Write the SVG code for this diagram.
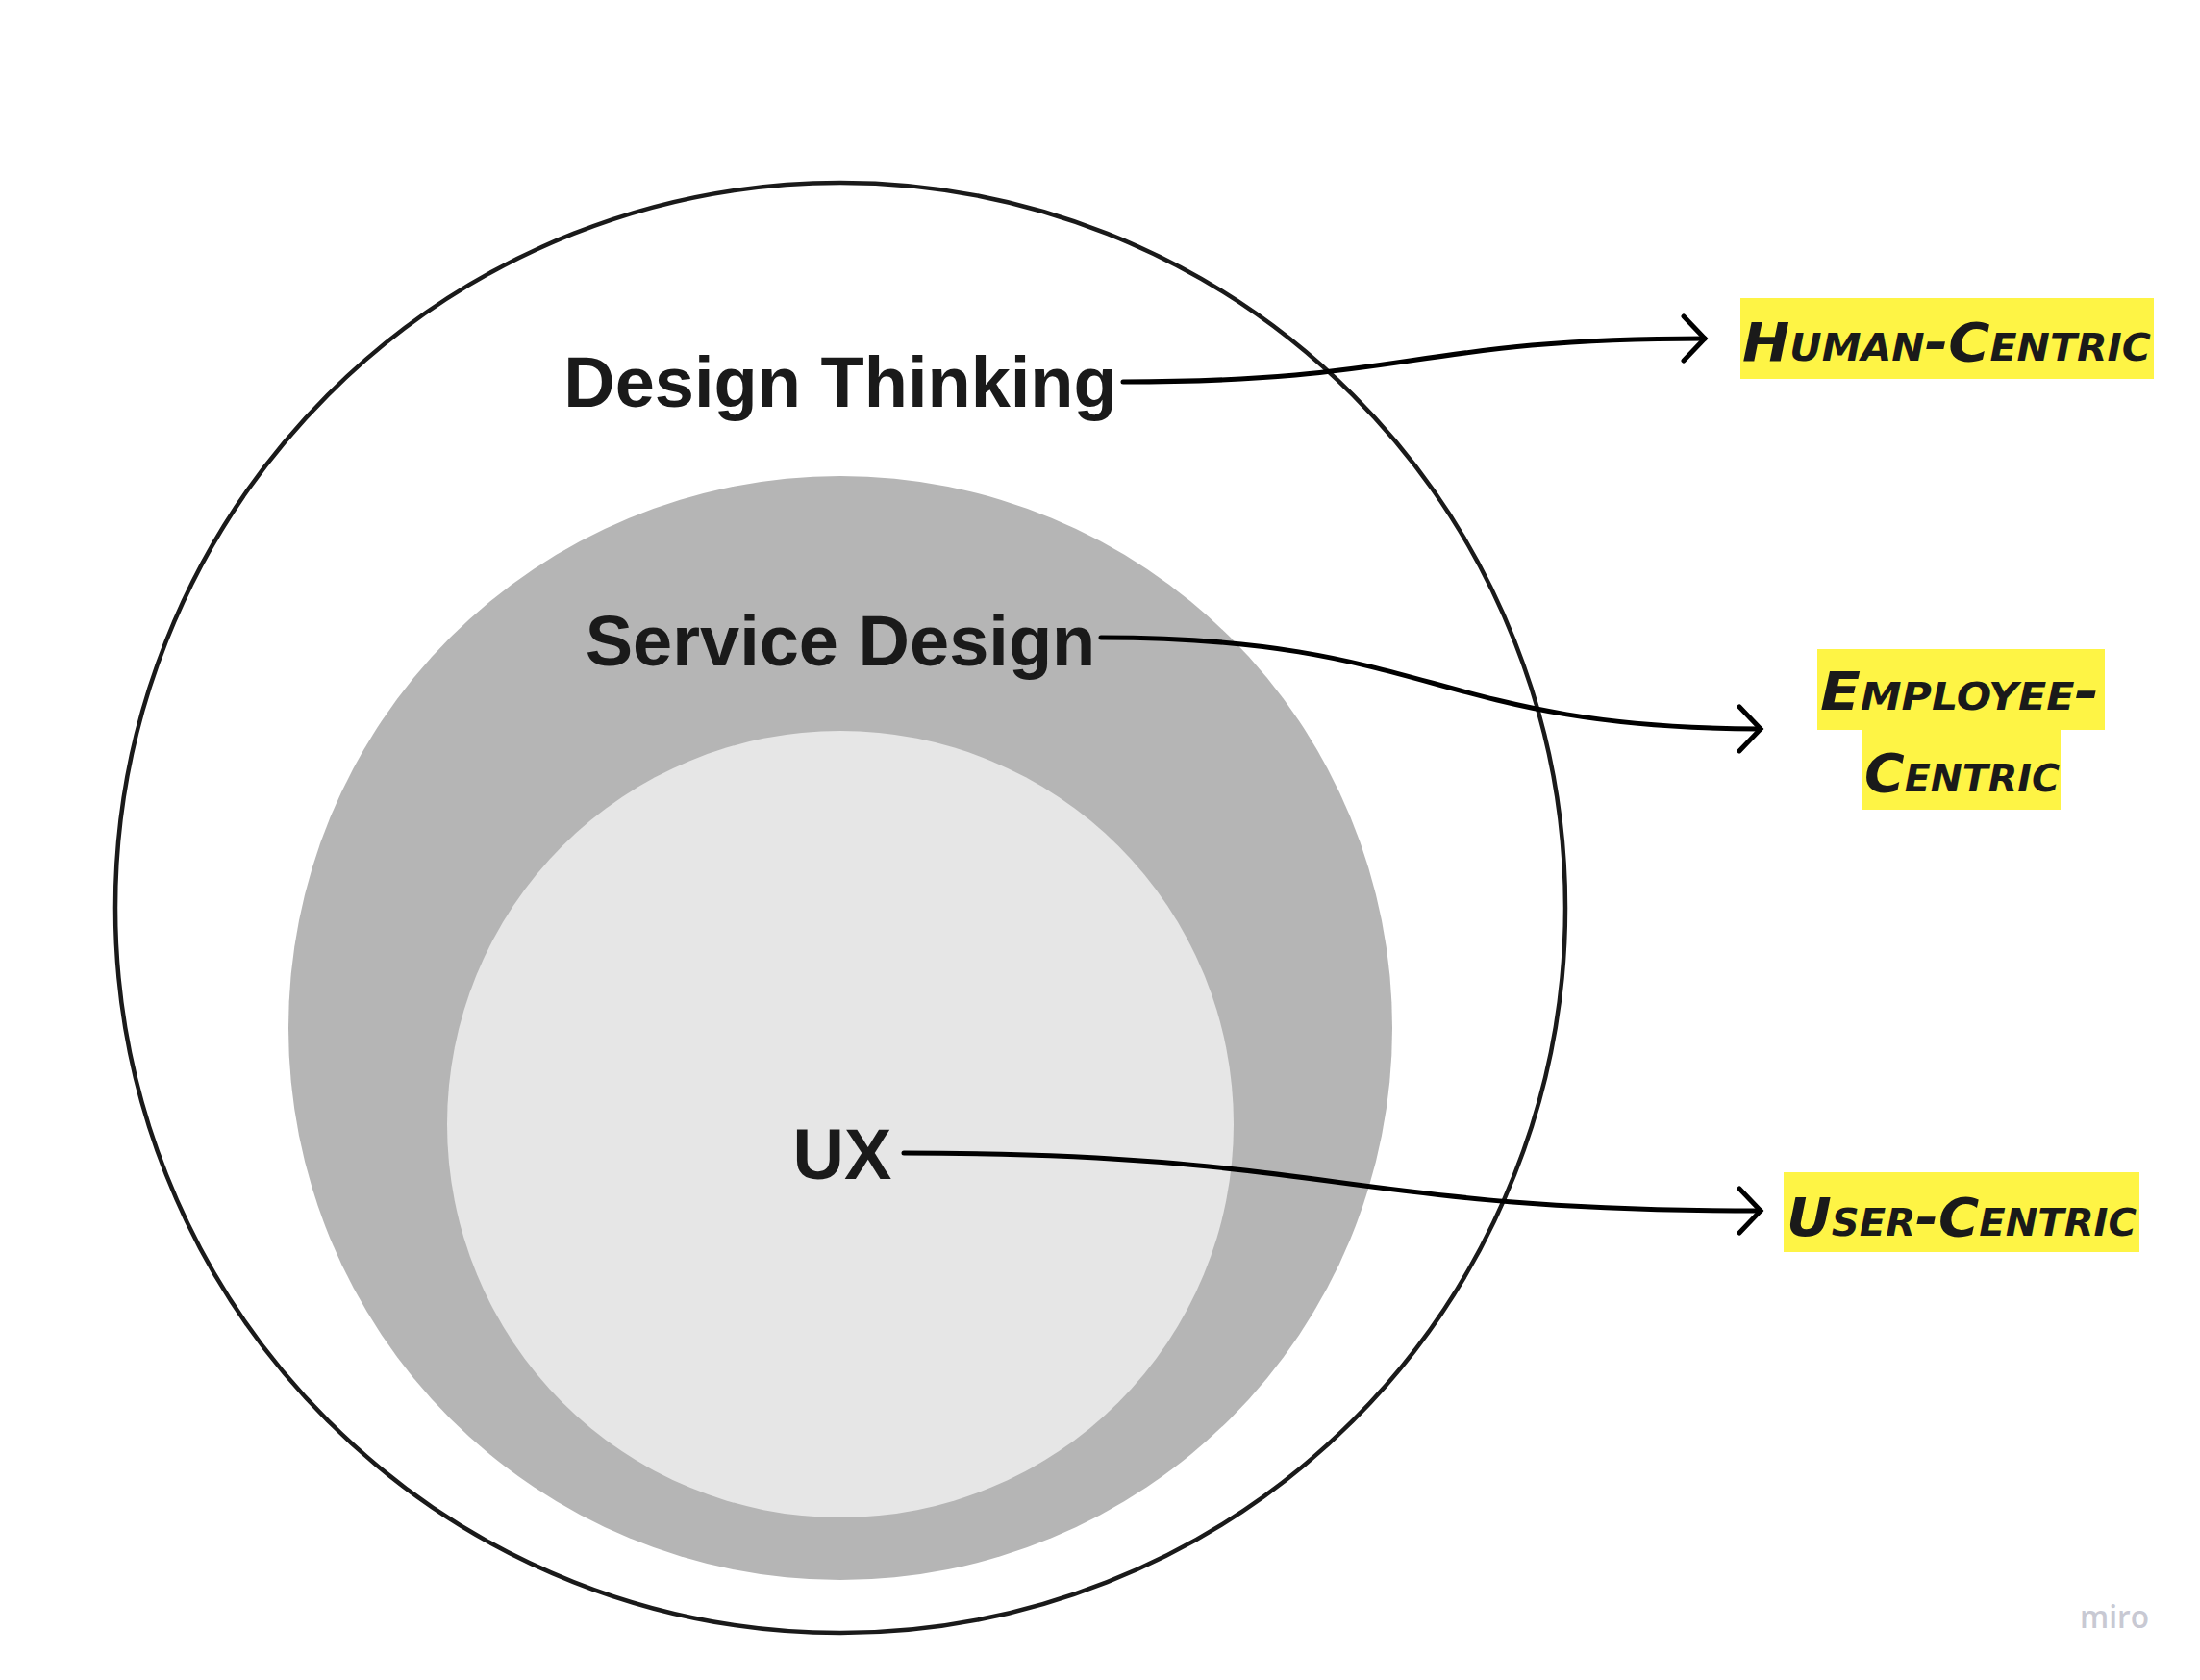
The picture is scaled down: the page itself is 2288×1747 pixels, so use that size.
<svg xmlns="http://www.w3.org/2000/svg" width="2288" height="1747" viewBox="0 0 2288 1747">
<style>
.title{font-family:"Liberation Sans",Arial,sans-serif;font-weight:bold;font-size:74px;fill:#1a1a1a;text-anchor:middle}
.tag{font-family:"DejaVu Sans",sans-serif;font-weight:bold;font-style:italic;font-variant:small-caps;font-size:56px;fill:#1a1a1a}
.hl{fill:#fef445}
.conn{fill:none;stroke:#000;stroke-width:5;stroke-linecap:round;stroke-linejoin:round}
</style>
<defs>
<marker id="chev" viewBox="-26 -26 30 52" markerWidth="30" markerHeight="52" refX="0" refY="0" orient="auto" markerUnits="userSpaceOnUse">
<path d="M-22,-23 L0,0 L-22,23" fill="none" stroke="#000" stroke-width="5" stroke-linecap="round" stroke-linejoin="miter"/>
</marker>
</defs>
<rect width="2288" height="1747" fill="#ffffff"/>
<g id="design-thinking">
<circle cx="874" cy="944" r="754" fill="#ffffff" stroke="#1a1a1a" stroke-width="4.5"/>
</g>
<g id="service-design">
<circle cx="874" cy="1069" r="574" fill="#b5b5b5"/>
</g>
<g id="ux">
<circle cx="874" cy="1169" r="409" fill="#e6e6e6"/>
</g>
<g id="labels">
<text class="title" x="874" y="423">Design Thinking</text>
<text class="title" x="874" y="692">Service Design</text>
<text class="title" x="876" y="1226">UX</text>
</g>
<g id="connectors">
<path class="conn" d="M1168,397 C1470,397 1470,352 1773,352" marker-end="url(#chev)"/>
<path class="conn" d="M1145,663 C1490,663 1490,757 1831,758" marker-end="url(#chev)"/>
<path class="conn" d="M940,1199 C1390,1199 1390,1259 1831,1259" marker-end="url(#chev)"/>
</g>
<g id="human-centric">
<rect class="hl" x="1810" y="310" width="430" height="84"/>
<text class="tag" x="1812" y="375" textLength="425" lengthAdjust="spacingAndGlyphs">Human-Centric</text>
</g>
<g id="employee-centric">
<rect class="hl" x="1890" y="675" width="299" height="84"/>
<rect class="hl" x="1937" y="758" width="206" height="84"/>
<text class="tag" x="1893" y="738" textLength="290" lengthAdjust="spacingAndGlyphs">Employee-</text>
<text class="tag" x="1939" y="823" textLength="203" lengthAdjust="spacingAndGlyphs">Centric</text>
</g>
<g id="user-centric">
<rect class="hl" x="1855" y="1219" width="370" height="83"/>
<text class="tag" x="1858" y="1285" textLength="364" lengthAdjust="spacingAndGlyphs">User-Centric</text>
</g>
<text x="2163" y="1693" font-family="'Open Sans',sans-serif" font-weight="600" font-size="32" fill="#c8c9d3" textLength="72" lengthAdjust="spacingAndGlyphs">miro</text>
</svg>
